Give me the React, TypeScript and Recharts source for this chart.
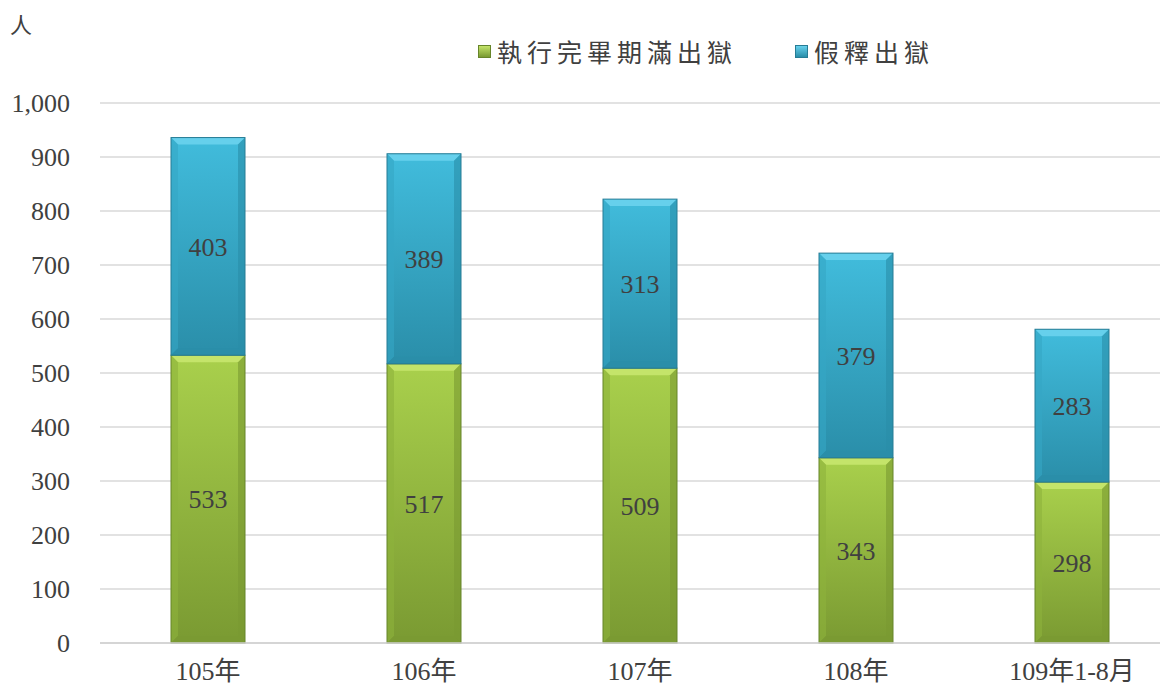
import { Bar, BarChart, CartesianGrid, LabelList, Legend, XAxis, YAxis } from "recharts";

const years = ["105年", "106年", "107年", "108年", "109年1-8月"];
const expired = [533, 517, 509, 343, 298];
const parole = [403, 389, 313, 379, 283];
const yTicks = [0, 100, 200, 300, 400, 500, 600, 700, 800, 900, 1000];

const data = years.map((label, i) => ({ label, expired: expired[i], parole: parole[i] }));

const FONT = '"Liberation Serif", "Noto Sans CJK TC", serif';
const TEXT = "#404040";

const palettes = {
  green: { top: "#c4e46a", light: "#a9d04c", dark: "#7a9a32", edge: "#67852a", side: "#8db23c" },
  blue: { top: "#66d0ec", light: "#41bcdc", dark: "#2a8ea9", edge: "#277c95", side: "#35a6c4" },
};

function BevelBar(props: any) {
  const { x, y, width: w, height: h, tone } = props;
  if (!h || h <= 0) return null;
  const p = palettes[tone as "green" | "blue"];
  const b = Math.min(7, h / 2);
  return (
    <g>
      <rect x={x} y={y} width={w} height={h} fill={`url(#grad-${tone})`} />
      <polygon points={`${x},${y} ${x + w},${y} ${x + w - b},${y + b} ${x + b},${y + b}`} fill={p.top} />
      <polygon points={`${x},${y} ${x + b},${y + b} ${x + b},${y + h - b} ${x},${y + h}`} fill={p.side} opacity={0.6} />
      <polygon
        points={`${x + w},${y} ${x + w - b},${y + b} ${x + w - b},${y + h - b} ${x + w},${y + h}`}
        fill={p.dark}
        opacity={0.6}
      />
      <polygon
        points={`${x},${y + h} ${x + b},${y + h - b} ${x + w - b},${y + h - b} ${x + w},${y + h}`}
        fill={p.dark}
      />
      <rect x={x} y={y} width={w} height={h} fill="none" stroke={p.edge} strokeWidth={1} />
    </g>
  );
}

function LegendContent() {
  const items = [
    { name: "執行完畢期滿出獄", tone: "green" as const },
    { name: "假釋出獄", tone: "blue" as const },
  ];
  return (
    <div style={{ display: "flex", gap: 58, fontFamily: FONT, fontSize: 25, color: TEXT, letterSpacing: 5 }}>
      {items.map((it) => (
        <span key={it.name} style={{ display: "flex", alignItems: "center" }}>
          <span
            style={{
              width: 11,
              height: 11,
              marginRight: 6,
              background: `linear-gradient(${palettes[it.tone].top}, ${palettes[it.tone].dark})`,
              border: `1px solid ${palettes[it.tone].edge}`,
            }}
          />
          {it.name}
        </span>
      ))}
    </div>
  );
}

export default function App() {
  return (
    <div style={{ margin: "-8px 0 0 -8px", width: 1168, height: 690, overflow: "hidden", position: "relative", background: "#fff" }}>
      <div style={{ position: "absolute", left: 10, top: 7, fontFamily: FONT, fontSize: 22, color: TEXT }}>人</div>
      <BarChart width={1180} height={690} data={data} margin={{ top: 103, right: 0, bottom: 0, left: 0 }} barSize={74}>
        <defs>
          <linearGradient id="grad-green" x1="0" y1="0" x2="0" y2="1">
            <stop offset="0%" stopColor={palettes.green.light} />
            <stop offset="100%" stopColor={palettes.green.dark} />
          </linearGradient>
          <linearGradient id="grad-blue" x1="0" y1="0" x2="0" y2="1">
            <stop offset="0%" stopColor={palettes.blue.light} />
            <stop offset="100%" stopColor={palettes.blue.dark} />
          </linearGradient>
        </defs>
        <CartesianGrid vertical={false} stroke="#d9d9d9" strokeWidth={1.5} />
        <XAxis
          dataKey="label"
          height={47}
          axisLine={{ stroke: "#d0d0d0", strokeWidth: 1.5 }}
          tickLine={false}
          tickMargin={13}
          tick={{ fill: TEXT, fontSize: 26, fontFamily: FONT }}
        />
        <YAxis
          width={100}
          domain={[0, 1000]}
          ticks={yTicks}
          axisLine={false}
          tickLine={false}
          tickMargin={24}
          tickFormatter={(v: number) => v.toLocaleString("en-US")}
          tick={{ fill: TEXT, fontSize: 26, fontFamily: FONT }}
        />
        <Legend
          layout="horizontal"
          verticalAlign="middle"
          align="center"
          content={<LegendContent />}
          wrapperStyle={{ top: 33, left: 478, width: "auto" }}
        />
        <Bar dataKey="expired" name="執行完畢期滿出獄" stackId="a" isAnimationActive={false} shape={(p: any) => <BevelBar {...p} tone="green" />}>
          <LabelList dataKey="expired" position="center" fill={TEXT} fontSize={26} fontFamily={FONT} />
        </Bar>
        <Bar dataKey="parole" name="假釋出獄" stackId="a" isAnimationActive={false} shape={(p: any) => <BevelBar {...p} tone="blue" />}>
          <LabelList dataKey="parole" position="center" fill={TEXT} fontSize={26} fontFamily={FONT} />
        </Bar>
      </BarChart>
    </div>
  );
}
